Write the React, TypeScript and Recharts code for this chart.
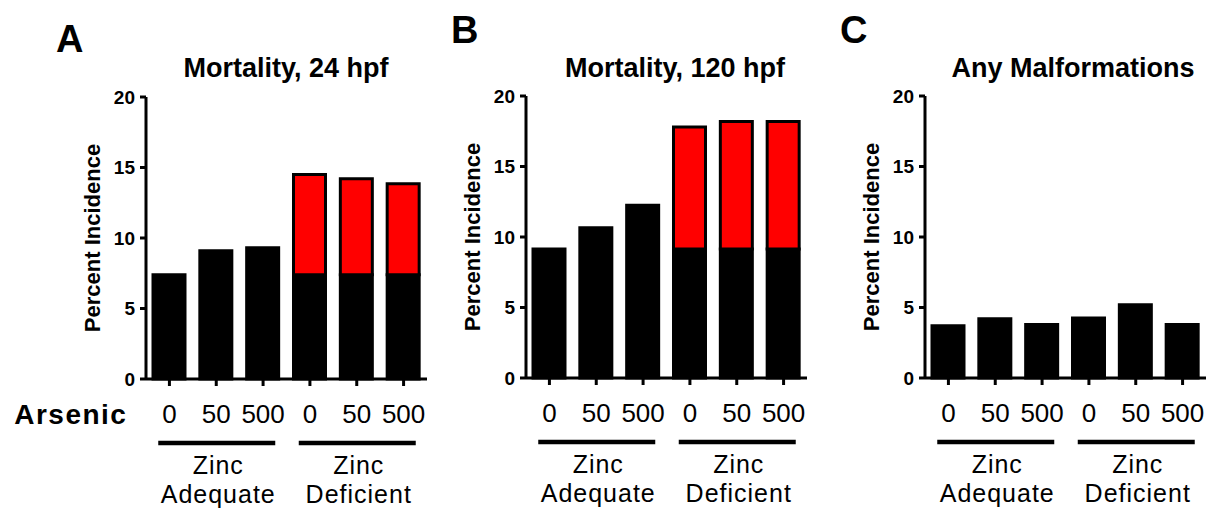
import React from 'react'
import { BarChart, Bar, XAxis, YAxis, Label } from 'recharts'

const doses = ['0', '50', '500', '0', '50', '500']
const zinc = ['Adequate', 'Adequate', 'Adequate', 'Deficient', 'Deficient', 'Deficient']
const yTicks = [0, 5, 10, 15, 20]

const mort24Base = [7.4, 9.1, 9.3, 7.4, 7.4, 7.4]
const mort24Excess = [0, 0, 0, 7.1, 6.8, 6.45]
const mort120Base = [9.15, 10.65, 12.25, 9.15, 9.15, 9.15]
const mort120Excess = [0, 0, 0, 8.65, 9.05, 9.05]
const malfBase = [3.7, 4.2, 3.8, 4.25, 5.2, 3.8]
const malfExcess = [0, 0, 0, 0, 0, 0]

const FONT = '"Liberation Sans", Arial, Helvetica, sans-serif'

function DoseTick(props: any) {
  const { x, y, payload, index, showArsenic } = props
  return (
    <g>
      <text x={x} y={y + 35} textAnchor="middle" fontSize={26} fill="#000">
        {payload.value}
      </text>
      {showArsenic && index === 0 && (
        <text x={x - 42} y={y + 36} textAnchor="end" fontSize={28} fontWeight="bold" letterSpacing={1.5} fill="#000">
          Arsenic
        </text>
      )}
      {(index === 1 || index === 4) && (
        <g>
          <line x1={x - 58} x2={x + 59} y1={y + 55} y2={y + 55} stroke="#000" strokeWidth={4.5} />
          <text x={x + 2} y={y + 86} textAnchor="middle" fontSize={25} letterSpacing={1} fill="#000">
            Zinc
          </text>
          <text x={x + 2} y={y + 115} textAnchor="middle" fontSize={25} letterSpacing={1} fill="#000">
            {zinc[index]}
          </text>
        </g>
      )}
    </g>
  )
}

function YTitle(props: any) {
  const { viewBox } = props
  const cx = viewBox.x + viewBox.width - 46
  const cy = viewBox.y + viewBox.height / 2
  return (
    <text x={cx} y={cy} transform={`rotate(-90 ${cx} ${cy})`} textAnchor="middle" fontSize={22} fontWeight="bold" fill="#000">
      Percent Incidence
    </text>
  )
}

interface PanelProps {
  left: number
  yAxisWidth: number
  plotTop: number
  plotBottom: number
  base: number[]
  excess: number[]
  showArsenic?: boolean
}

function Panel({ left, yAxisWidth, plotTop, plotBottom, base, excess, showArsenic }: PanelProps) {
  const data = doses.map((d, i) => ({ dose: d, base: base[i], excess: excess[i] }))
  const width = yAxisWidth + 281 + 6
  return (
    <div style={{ position: 'absolute', left, top: 0 }}>
      <BarChart width={width} height={515} data={data} margin={{ top: plotTop, right: 6, bottom: 0, left: 0 }} barSize={32}>
        <XAxis
          dataKey="dose"
          height={515 - plotBottom}
          axisLine={{ stroke: '#000', strokeWidth: 3 }}
          tickLine={{ stroke: '#000', strokeWidth: 3 }}
          tickSize={7}
          interval={0}
          tick={(p: any) => <DoseTick {...p} showArsenic={showArsenic} />}
        />
        <YAxis
          width={yAxisWidth}
          domain={[0, 20]}
          ticks={yTicks}
          interval={0}
          axisLine={{ stroke: '#000', strokeWidth: 3 }}
          tickLine={{ stroke: '#000', strokeWidth: 3 }}
          tickSize={6}
          tickMargin={5}
          tick={{ fill: '#000', fontSize: 19, fontWeight: 'bold' }}
        >
          <Label content={<YTitle />} />
        </YAxis>
        <Bar dataKey="base" stackId="s" fill="#000" stroke="#000" strokeWidth={3} isAnimationActive={false} />
        <Bar dataKey="excess" stackId="s" fill="#ff0000" stroke="#000" strokeWidth={3} isAnimationActive={false} />
      </BarChart>
    </div>
  )
}

const letterStyle: React.CSSProperties = { position: 'absolute', fontSize: 38, fontWeight: 'bold', lineHeight: '38px' }
const titleStyle: React.CSSProperties = {
  position: 'absolute',
  width: 400,
  textAlign: 'center',
  fontSize: 27,
  fontWeight: 'bold',
  lineHeight: '27px',
}

export default function App() {
  return (
    <div style={{ position: 'absolute', left: 0, top: 0, width: 1227, height: 515, background: '#fff', fontFamily: FONT, color: '#000' }}>
      <div style={{ ...letterStyle, left: 56, top: 20 }}>A</div>
      <div style={{ ...letterStyle, left: 451, top: 11 }}>B</div>
      <div style={{ ...letterStyle, left: 840, top: 11 }}>C</div>
      <div style={{ ...titleStyle, left: 286 - 200, top: 55 }}>Mortality, 24 hpf</div>
      <div style={{ ...titleStyle, left: 675 - 200, top: 55 }}>Mortality, 120 hpf</div>
      <div style={{ ...titleStyle, left: 1073 - 200, top: 55 }}>Any Malformations</div>
      <Panel left={0} yAxisWidth={146} plotTop={97} plotBottom={379} base={mort24Base} excess={mort24Excess} showArsenic />
      <Panel left={420} yAxisWidth={106} plotTop={96} plotBottom={378} base={mort120Base} excess={mort120Excess} />
      <Panel left={819} yAxisWidth={106} plotTop={96} plotBottom={378} base={malfBase} excess={malfExcess} />
    </div>
  )
}
